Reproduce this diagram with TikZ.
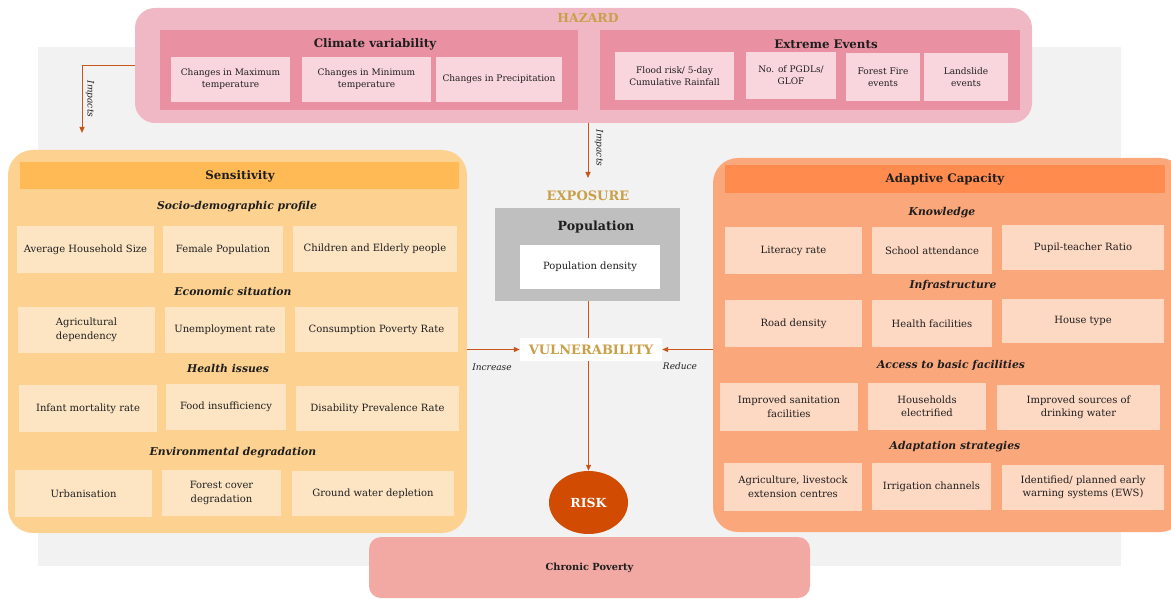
\documentclass[tikz,border=0pt]{standalone}
\usepackage{fontspec}
\setmainfont{DejaVu Serif}
\usetikzlibrary{arrows.meta,shapes.geometric}
\definecolor{bgc}{HTML}{F2F2F2}
\definecolor{hazo}{HTML}{F0B8C5}
\definecolor{hazi}{HTML}{E991A2}
\definecolor{hitc}{HTML}{F9D6DE}
\definecolor{gold}{HTML}{C9A04A}
\definecolor{senso}{HTML}{FDD18F}
\definecolor{sensh}{HTML}{FFBA55}
\definecolor{sitc}{HTML}{FDE5C4}
\definecolor{adapo}{HTML}{FBA77C}
\definecolor{adaph}{HTML}{FF8B4E}
\definecolor{aitc}{HTML}{FDD8C3}
\definecolor{popc}{HTML}{BFBFBF}
\definecolor{riskc}{HTML}{D14B02}
\definecolor{chronc}{HTML}{F2A9A4}
\definecolor{arrc}{HTML}{C8561A}
\definecolor{txt}{HTML}{1E1E1E}
\newcommand{\rbox}[7]{\node[#1, minimum width={(#4-#2)*1pt}, minimum height={(#5-#3)*1pt}] (#6) at ({(#2+#4)/2},{(#3+#5)/2}) {#7};}
\tikzset{
  base/.style={inner sep=1pt, align=center, text=txt, font=\fontsize{10}{13.5}\selectfont},
  hitem/.style={base, fill=hitc, font=\fontsize{9}{12}\selectfont},
  sitem/.style={base, fill=sitc},
  aitem/.style={base, fill=aitc},
  outerbox/.style={inner sep=0pt, rounded corners=20pt},
  head/.style={inner sep=0pt, text=txt, font=\bfseries\fontsize{11.8}{14}\selectfont},
  sub/.style={inner sep=0pt, text=txt, font=\bfseries\itshape\fontsize{10.8}{12}\selectfont},
  goldtitle/.style={inner sep=0pt, text=gold, font=\bfseries\fontsize{13}{15}\selectfont},
  conn/.style={draw=arrc, line width=1pt},
  arr/.style={conn, -{Triangle[length=6pt,width=5pt]}},
  lab/.style={inner sep=0pt, text=txt, font=\itshape\fontsize{9}{10}\selectfont},
}
\begin{document}
\begin{tikzpicture}[x=1pt,y=-1pt]
\useasboundingbox (0,0) rectangle (1171,599);
\fill[white] (0,0) rectangle (1171,599);
\fill[bgc] (38,47) rectangle (1121,566);
% Hazard
\rbox{outerbox, fill=hazo}{135}{8}{1032}{123}{haz}{}
\node[goldtitle, font=\bfseries\fontsize{12.4}{14}\selectfont] (hazt) at (588,18) {HAZARD};
\rbox{inner sep=0pt, fill=hazi}{160}{30}{578}{110}{clim}{}
\rbox{inner sep=0pt, fill=hazi}{600}{30}{1020}{110}{ext}{}
\node[head] (climt) at (375,44) {Climate variability};
\node[head] (extt) at (826,44) {Extreme Events};
\rbox{hitem}{171}{57}{290}{102}{c1}{Changes in Maximum\\temperature}
\rbox{hitem}{302}{57}{431}{102}{c2}{Changes in Minimum\\temperature}
\rbox{hitem}{436}{57}{562}{102}{c3}{Changes in Precipitation}
\rbox{hitem}{615}{52}{734}{100}{e1}{Flood risk/ 5-day\\Cumulative Rainfall}
\rbox{hitem}{746}{52}{836}{99}{e2}{No. of PGDLs/\\GLOF}
\rbox{hitem}{846}{53}{920}{101}{e3}{Forest Fire\\events}
\rbox{hitem}{924}{53}{1008}{101}{e4}{Landslide\\events}
% Sensitivity
\rbox{outerbox, rounded corners=25pt, fill=senso}{8}{150}{467}{533}{sens}{}
\rbox{inner sep=0pt, fill=sensh}{20}{162}{459}{189}{sensh}{}
\node[head] (senst) at (240,176) {Sensitivity};
\node[sub] (s1t) at (237,207) {Socio-demographic profile};
\rbox{sitem}{17}{226}{154}{273}{s11}{Average Household Size}
\rbox{sitem}{163}{226}{283}{273}{s12}{Female Population}
\rbox{sitem}{293}{226}{457}{272}{s13}{Children and Elderly people}
\node[sub] (s2t) at (233,291) {Economic situation};
\rbox{sitem}{18}{307}{155}{353}{s21}{Agricultural\\dependency}
\rbox{sitem}{165}{307}{285}{353}{s22}{Unemployment rate}
\rbox{sitem}{295}{307}{458}{352}{s23}{Consumption Poverty Rate}
\node[sub] (s3t) at (228,368) {Health issues};
\rbox{sitem}{19}{385}{157}{432}{s31}{Infant mortality rate}
\rbox{sitem}{166}{384}{286}{430}{s32}{Food insufficiency}
\rbox{sitem}{296}{386}{459}{431}{s33}{Disability Prevalence Rate}
\node[sub] (s4t) at (233,453) {Environmental degradation};
\rbox{sitem}{15}{470}{152}{517}{s41}{Urbanisation}
\rbox{sitem}{162}{470}{281}{516}{s42}{Forest cover\\degradation}
\rbox{sitem}{292}{471}{454}{516}{s43}{Ground water depletion}
% Adaptive capacity
\rbox{outerbox, rounded corners=25pt, fill=adapo}{713}{158}{1185}{532}{adap}{}
\rbox{inner sep=0pt, fill=adaph}{725}{165}{1165}{193}{adaph}{}
\node[head] (adapt) at (945,179) {Adaptive Capacity};
\node[sub] (a1t) at (942,213) {Knowledge};
\rbox{aitem}{725}{227}{862}{274}{a11}{Literacy rate}
\rbox{aitem}{872}{227}{992}{274}{a12}{School attendance}
\rbox{aitem}{1002}{225}{1164}{270}{a13}{Pupil-teacher Ratio}
\node[sub] (a2t) at (953,285) {Infrastructure};
\rbox{aitem}{725}{300}{862}{347}{a21}{Road density}
\rbox{aitem}{872}{300}{992}{347}{a22}{Health facilities}
\rbox{aitem}{1002}{299}{1164}{343}{a23}{House type}
\node[sub] (a3t) at (951,365) {Access to basic facilities};
\rbox{aitem}{720}{383}{858}{431}{a31}{Improved sanitation\\facilities}
\rbox{aitem}{868}{383}{986}{430}{a32}{Households\\electrified}
\rbox{aitem}{997}{385}{1160}{430}{a33}{Improved sources of\\drinking water}
\node[sub] (a4t) at (955,447) {Adaptation strategies};
\rbox{aitem}{724}{463}{862}{511}{a41}{Agriculture, livestock\\extension centres}
\rbox{aitem}{872}{463}{991}{510}{a42}{Irrigation channels}
\rbox{aitem}{1002}{465}{1164}{510}{a43}{Identified/ planned early\\warning systems (EWS)}
% Exposure
\node[goldtitle] (expo) at (588,196) {EXPOSURE};
\rbox{inner sep=0pt, fill=popc}{495}{208}{680}{301}{pop}{}
\node[inner sep=0pt, text=txt, font=\bfseries\fontsize{12.6}{14}\selectfont] (popt) at (596,227) {Population};
\rbox{base, fill=white}{520}{245}{660}{289}{popd}{Population density}
% Vulnerability
\rbox{goldtitle, fill=white}{520}{338}{662}{361}{vul}{VULNERABILITY}
% Risk
\node[ellipse, fill=riskc, minimum width=79pt, minimum height=63pt, inner sep=0pt, text=white, font=\bfseries\fontsize{12.5}{14}\selectfont] (risk) at (588.5,502.5) {RISK};
% Chronic poverty
\rbox{outerbox, rounded corners=12pt, fill=chronc, text=txt, font=\bfseries\fontsize{9.8}{11}\selectfont}{369}{537}{810}{598}{chron}{Chronic Poverty}
% Connectors
\coordinate (le) at (82,133);
\draw[arr] (haz.west) -| (le);
\node[lab, rotate=-90] (imp1) at (90,99) {Impacts};
\coordinate (ie) at (588,178);
\draw[arr] (haz.south -| ie) -- (ie);
\node[lab, rotate=-90] (imp2) at (599,148) {Impacts};
\draw[conn] (pop.south -| risk) -- (vul.north -| risk);
\draw[arr] (vul.south -| risk) -- (risk.north);
\draw[arr] (sens.east |- vul) -- (vul.west);
\draw[arr] (adap.west |- vul) -- (vul.east);
\node[lab] (inc) at (492,367) {Increase};
\node[lab] (red) at (680,366) {Reduce};
\end{tikzpicture}
\end{document}
